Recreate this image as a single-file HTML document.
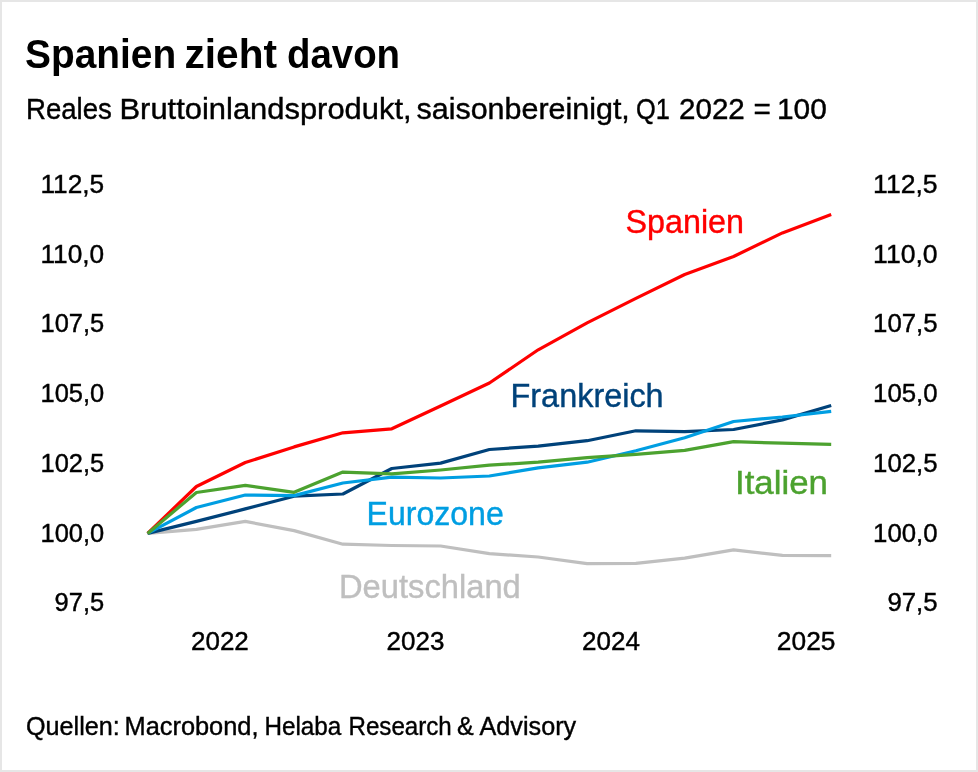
<!DOCTYPE html>
<html><head><meta charset="utf-8"><style>
html,body{margin:0;padding:0;background:#fff;}
body{width:978px;height:772px;overflow:hidden;position:relative;}
svg{position:absolute;left:0;top:0;will-change:transform;}
text{font-family:"Liberation Sans",sans-serif;}
</style></head><body>
<svg width="978" height="772" viewBox="0 0 978 772">
<rect x="1" y="1" width="976" height="770" fill="#fff" stroke="#e6e6e6" stroke-width="2"/>
<text x="25.00" y="68.40" font-size="40.5" font-weight="bold" fill="#000" textLength="151.13" lengthAdjust="spacingAndGlyphs">Spanien</text>
<text x="184.50" y="68.40" font-size="40.5" font-weight="bold" fill="#000" textLength="92.47" lengthAdjust="spacingAndGlyphs">zieht</text>
<text x="287.00" y="68.40" font-size="40.5" font-weight="bold" fill="#000" textLength="113.07" lengthAdjust="spacingAndGlyphs">davon</text>
<text x="26.00" y="118.90" font-size="28.7" fill="#000" stroke="#000" stroke-width="0.4" textLength="85.91" lengthAdjust="spacingAndGlyphs">Reales</text>
<text x="119.50" y="118.90" font-size="28.7" fill="#000" stroke="#000" stroke-width="0.4" textLength="292.11" lengthAdjust="spacingAndGlyphs">Bruttoinlandsprodukt,</text>
<text x="416.50" y="118.90" font-size="28.7" fill="#000" stroke="#000" stroke-width="0.4" textLength="213.35" lengthAdjust="spacingAndGlyphs">saisonbereinigt,</text>
<text x="636.00" y="118.90" font-size="28.7" fill="#000" stroke="#000" stroke-width="0.4" textLength="33.88" lengthAdjust="spacingAndGlyphs">Q1</text>
<text x="679.00" y="118.90" font-size="28.7" fill="#000" stroke="#000" stroke-width="0.4" textLength="65.83" lengthAdjust="spacingAndGlyphs">2022</text>
<text x="753.50" y="118.90" font-size="28.7" fill="#000" stroke="#000" stroke-width="0.4" textLength="17.37" lengthAdjust="spacingAndGlyphs">=</text>
<text x="777.00" y="118.90" font-size="28.7" fill="#000" stroke="#000" stroke-width="0.4" textLength="49.88" lengthAdjust="spacingAndGlyphs">100</text>
<text x="104.20" y="192.80" font-size="25" fill="#000" stroke="#000" stroke-width="0.4" text-anchor="end" textLength="63.72" lengthAdjust="spacingAndGlyphs">112,5</text>
<text x="104.20" y="262.50" font-size="25" fill="#000" stroke="#000" stroke-width="0.4" text-anchor="end" textLength="63.72" lengthAdjust="spacingAndGlyphs">110,0</text>
<text x="104.20" y="332.20" font-size="25" fill="#000" stroke="#000" stroke-width="0.4" text-anchor="end" textLength="63.72" lengthAdjust="spacingAndGlyphs">107,5</text>
<text x="104.20" y="401.90" font-size="25" fill="#000" stroke="#000" stroke-width="0.4" text-anchor="end" textLength="63.72" lengthAdjust="spacingAndGlyphs">105,0</text>
<text x="104.20" y="471.60" font-size="25" fill="#000" stroke="#000" stroke-width="0.4" text-anchor="end" textLength="63.72" lengthAdjust="spacingAndGlyphs">102,5</text>
<text x="104.20" y="541.50" font-size="25" fill="#000" stroke="#000" stroke-width="0.4" text-anchor="end" textLength="63.72" lengthAdjust="spacingAndGlyphs">100,0</text>
<text x="104.20" y="611.40" font-size="25" fill="#000" stroke="#000" stroke-width="0.4" text-anchor="end" textLength="49.56" lengthAdjust="spacingAndGlyphs">97,5</text>
<text x="937.60" y="192.80" font-size="25" fill="#000" stroke="#000" stroke-width="0.4" text-anchor="end" textLength="64.52" lengthAdjust="spacingAndGlyphs">112,5</text>
<text x="937.60" y="262.50" font-size="25" fill="#000" stroke="#000" stroke-width="0.4" text-anchor="end" textLength="64.52" lengthAdjust="spacingAndGlyphs">110,0</text>
<text x="937.60" y="332.20" font-size="25" fill="#000" stroke="#000" stroke-width="0.4" text-anchor="end" textLength="64.52" lengthAdjust="spacingAndGlyphs">107,5</text>
<text x="937.60" y="401.90" font-size="25" fill="#000" stroke="#000" stroke-width="0.4" text-anchor="end" textLength="64.52" lengthAdjust="spacingAndGlyphs">105,0</text>
<text x="937.60" y="471.60" font-size="25" fill="#000" stroke="#000" stroke-width="0.4" text-anchor="end" textLength="64.52" lengthAdjust="spacingAndGlyphs">102,5</text>
<text x="937.60" y="541.50" font-size="25" fill="#000" stroke="#000" stroke-width="0.4" text-anchor="end" textLength="64.52" lengthAdjust="spacingAndGlyphs">100,0</text>
<text x="937.60" y="611.40" font-size="25" fill="#000" stroke="#000" stroke-width="0.4" text-anchor="end" textLength="50.18" lengthAdjust="spacingAndGlyphs">97,5</text>
<text x="219.90" y="649.80" font-size="25" fill="#000" stroke="#000" stroke-width="0.4" text-anchor="middle" textLength="57.83" lengthAdjust="spacingAndGlyphs">2022</text>
<text x="415.50" y="649.80" font-size="25" fill="#000" stroke="#000" stroke-width="0.4" text-anchor="middle" textLength="57.83" lengthAdjust="spacingAndGlyphs">2023</text>
<text x="611.00" y="649.80" font-size="25" fill="#000" stroke="#000" stroke-width="0.4" text-anchor="middle" textLength="57.83" lengthAdjust="spacingAndGlyphs">2024</text>
<text x="806.20" y="649.80" font-size="25" fill="#000" stroke="#000" stroke-width="0.4" text-anchor="middle" textLength="58.62" lengthAdjust="spacingAndGlyphs">2025</text>
<text x="26.00" y="734.90" font-size="25" fill="#000" stroke="#000" stroke-width="0.4" textLength="93.73" lengthAdjust="spacingAndGlyphs">Quellen:</text>
<text x="124.50" y="734.90" font-size="25" fill="#000" stroke="#000" stroke-width="0.4" textLength="134.03" lengthAdjust="spacingAndGlyphs">Macrobond,</text>
<text x="264.50" y="734.90" font-size="25" fill="#000" stroke="#000" stroke-width="0.4" textLength="76.83" lengthAdjust="spacingAndGlyphs">Helaba</text>
<text x="348.50" y="734.90" font-size="25" fill="#000" stroke="#000" stroke-width="0.4" textLength="103.20" lengthAdjust="spacingAndGlyphs">Research</text>
<text x="457.00" y="734.90" font-size="25" fill="#000" stroke="#000" stroke-width="0.4" textLength="16.69" lengthAdjust="spacingAndGlyphs">&amp;</text>
<text x="479.50" y="734.90" font-size="25" fill="#000" stroke="#000" stroke-width="0.4" textLength="96.67" lengthAdjust="spacingAndGlyphs">Advisory</text>
<text x="625.50" y="232.70" font-size="32.3" fill="#ff0000" stroke="#ff0000" stroke-width="0.4" textLength="118.53" lengthAdjust="spacingAndGlyphs">Spanien</text>
<text x="510.50" y="407.10" font-size="32.3" fill="#00427a" stroke="#00427a" stroke-width="0.4" textLength="153.16" lengthAdjust="spacingAndGlyphs">Frankreich</text>
<text x="735.00" y="494.40" font-size="32.3" fill="#4ca22f" stroke="#4ca22f" stroke-width="0.4" textLength="92.99" lengthAdjust="spacingAndGlyphs">Italien</text>
<text x="366.50" y="525.00" font-size="32.3" fill="#009ee2" stroke="#009ee2" stroke-width="0.4" textLength="137.27" lengthAdjust="spacingAndGlyphs">Eurozone</text>
<text x="339.00" y="597.70" font-size="32.3" fill="#bfbfbf" stroke="#bfbfbf" stroke-width="0.4" textLength="181.75" lengthAdjust="spacingAndGlyphs">Deutschland</text>
<polyline points="147.6,533.4 196.4,529.4 245.3,521.4 294.1,530.6 342.9,544.2 391.8,545.5 440.6,546.0 489.4,553.6 538.2,557.0 587.1,563.7 635.9,563.3 684.7,558.1 733.6,549.8 782.4,555.4 831.2,555.6" fill="none" stroke="#bfbfbf" stroke-width="3.2" stroke-linejoin="round" stroke-linecap="butt"/>
<polyline points="147.6,533.4 196.4,521.4 245.3,508.9 294.1,496.2 342.9,494.0 391.8,468.5 440.6,463.1 489.4,449.5 538.2,446.1 587.1,440.7 635.9,430.8 684.7,431.7 733.6,429.5 782.4,419.9 831.2,405.5" fill="none" stroke="#00427a" stroke-width="3.2" stroke-linejoin="round" stroke-linecap="butt"/>
<polyline points="147.6,533.4 196.4,507.5 245.3,495.0 294.1,495.6 342.9,483.0 391.8,477.2 440.6,478.0 489.4,476.0 538.2,467.8 587.1,462.2 635.9,450.8 684.7,437.8 733.6,421.5 782.4,417.0 831.2,411.3" fill="none" stroke="#009ee2" stroke-width="3.2" stroke-linejoin="round" stroke-linecap="butt"/>
<polyline points="147.6,533.4 196.4,486.5 245.3,462.5 294.1,446.9 342.9,432.8 391.8,428.8 440.6,406.0 489.4,383.0 538.2,349.8 587.1,322.9 635.9,298.4 684.7,274.5 733.6,256.5 782.4,232.9 831.2,214.5" fill="none" stroke="#ff0000" stroke-width="3.2" stroke-linejoin="round" stroke-linecap="butt"/>
<polyline points="147.6,533.4 196.4,492.5 245.3,485.3 294.1,492.3 342.9,472.1 391.8,473.9 440.6,470.0 489.4,465.2 538.2,462.2 587.1,457.6 635.9,454.3 684.7,450.3 733.6,441.6 782.4,443.2 831.2,444.3" fill="none" stroke="#4ca22f" stroke-width="3.2" stroke-linejoin="round" stroke-linecap="butt"/>
</svg>
</body></html>
